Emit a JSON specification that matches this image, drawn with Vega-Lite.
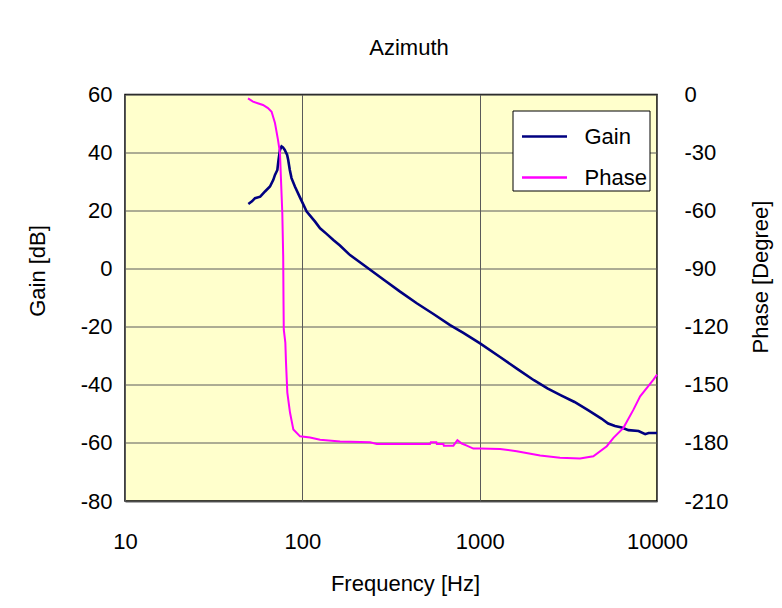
{
  "$schema": "https://vega.github.io/schema/vega-lite/v6.json",
  "width": 532,
  "height": 406.5,
  "autosize": {"type": "none"},
  "padding": {"left": 125, "top": 94.5, "right": 125, "bottom": 107},
  "background": "white",
  "title": {
    "text": "Azimuth",
    "font": "Liberation Sans",
    "fontSize": 22,
    "fontWeight": "normal",
    "color": "#000000",
    "anchor": "middle",
    "dx": 18,
    "offset": 24
  },
  "config": {
    "font": "Liberation Sans",
    "view": {"fill": "#FFFFCC", "stroke": "#000000", "strokeWidth": 1.5},
    "axis": {
      "labelFont": "Liberation Sans",
      "labelFontSize": 22,
      "labelColor": "#000000",
      "titleFont": "Liberation Sans",
      "titleFontSize": 22,
      "titleFontWeight": "normal",
      "titleColor": "#000000",
      "domain": false,
      "ticks": false,
      "gridColor": "#5a5a5a",
      "gridWidth": 1,
      "gridOpacity": 1,
      "labelOverlap": false,
      "labelBound": false,
      "labelExpr": "'' + datum.value"
    }
  },
  "data": {
    "values": [
      {"series": "Gain", "f": 49.6, "v": 22.3},
      {"series": "Gain", "f": 52, "v": 23.2},
      {"series": "Gain", "f": 54.1, "v": 24.3},
      {"series": "Gain", "f": 57.9, "v": 24.8},
      {"series": "Gain", "f": 61.6, "v": 26.6},
      {"series": "Gain", "f": 65.7, "v": 28.3},
      {"series": "Gain", "f": 68.6, "v": 30.6},
      {"series": "Gain", "f": 70.1, "v": 32.3},
      {"series": "Gain", "f": 72.3, "v": 34},
      {"series": "Gain", "f": 73.4, "v": 37.5},
      {"series": "Gain", "f": 74.8, "v": 40.9},
      {"series": "Gain", "f": 76.4, "v": 42.1},
      {"series": "Gain", "f": 77.8, "v": 41.8},
      {"series": "Gain", "f": 79.6, "v": 40.9},
      {"series": "Gain", "f": 82.1, "v": 39.2},
      {"series": "Gain", "f": 83.2, "v": 37.5},
      {"series": "Gain", "f": 85, "v": 34},
      {"series": "Gain", "f": 86.9, "v": 31.2},
      {"series": "Gain", "f": 90.8, "v": 28.3},
      {"series": "Gain", "f": 97.1, "v": 24.5},
      {"series": "Gain", "f": 105.8, "v": 19.7},
      {"series": "Gain", "f": 118, "v": 16.2},
      {"series": "Gain", "f": 125.9, "v": 13.9},
      {"series": "Gain", "f": 137, "v": 12},
      {"series": "Gain", "f": 149.6, "v": 9.9},
      {"series": "Gain", "f": 163, "v": 8},
      {"series": "Gain", "f": 185.8, "v": 4.7},
      {"series": "Gain", "f": 230.8, "v": 0.5},
      {"series": "Gain", "f": 286.6, "v": -3.7},
      {"series": "Gain", "f": 355.8, "v": -7.9},
      {"series": "Gain", "f": 441.8, "v": -11.9},
      {"series": "Gain", "f": 548.6, "v": -15.6},
      {"series": "Gain", "f": 681, "v": -19.4},
      {"series": "Gain", "f": 809, "v": -22.1},
      {"series": "Gain", "f": 1005, "v": -25.7},
      {"series": "Gain", "f": 1303, "v": -30.4},
      {"series": "Gain", "f": 1620, "v": -34.4},
      {"series": "Gain", "f": 2023, "v": -38.4},
      {"series": "Gain", "f": 2410, "v": -41.2},
      {"series": "Gain", "f": 2875, "v": -43.6},
      {"series": "Gain", "f": 3427, "v": -45.9},
      {"series": "Gain", "f": 4084, "v": -48.7},
      {"series": "Gain", "f": 4856, "v": -51.6},
      {"series": "Gain", "f": 5305, "v": -53.3},
      {"series": "Gain", "f": 5795, "v": -54.2},
      {"series": "Gain", "f": 6326, "v": -54.7},
      {"series": "Gain", "f": 6902, "v": -55.6},
      {"series": "Gain", "f": 7870, "v": -55.9},
      {"series": "Gain", "f": 8580, "v": -57},
      {"series": "Gain", "f": 8970, "v": -56.6},
      {"series": "Gain", "f": 10000, "v": -56.6},
      {"series": "Phase", "f": 49.4, "v": -2},
      {"series": "Phase", "f": 52.7, "v": -3.7},
      {"series": "Phase", "f": 56, "v": -4.5},
      {"series": "Phase", "f": 60, "v": -5.4},
      {"series": "Phase", "f": 64, "v": -7},
      {"series": "Phase", "f": 67.1, "v": -8.9},
      {"series": "Phase", "f": 70.1, "v": -14.7},
      {"series": "Phase", "f": 72.9, "v": -23.4},
      {"series": "Phase", "f": 74.8, "v": -30.1},
      {"series": "Phase", "f": 75.8, "v": -44.1},
      {"series": "Phase", "f": 77.1, "v": -61.2},
      {"series": "Phase", "f": 78, "v": -83.7},
      {"series": "Phase", "f": 78.3, "v": -106},
      {"series": "Phase", "f": 78.6, "v": -121.5},
      {"series": "Phase", "f": 80.2, "v": -128.2},
      {"series": "Phase", "f": 80.9, "v": -138.5},
      {"series": "Phase", "f": 82.3, "v": -154},
      {"series": "Phase", "f": 85.2, "v": -164.3},
      {"series": "Phase", "f": 89, "v": -173.1},
      {"series": "Phase", "f": 97.1, "v": -176.6},
      {"series": "Phase", "f": 110.5, "v": -177.2},
      {"series": "Phase", "f": 125.9, "v": -178.3},
      {"series": "Phase", "f": 163.3, "v": -179.3},
      {"series": "Phase", "f": 241, "v": -179.7},
      {"series": "Phase", "f": 263, "v": -180.5},
      {"series": "Phase", "f": 525, "v": -180.5},
      {"series": "Phase", "f": 530, "v": -179.7},
      {"series": "Phase", "f": 570, "v": -179.7},
      {"series": "Phase", "f": 573, "v": -180.5},
      {"series": "Phase", "f": 624, "v": -180.5},
      {"series": "Phase", "f": 628, "v": -181.4},
      {"series": "Phase", "f": 711, "v": -181.4},
      {"series": "Phase", "f": 749, "v": -178.6},
      {"series": "Phase", "f": 793, "v": -180.3},
      {"series": "Phase", "f": 846, "v": -181.4},
      {"series": "Phase", "f": 921, "v": -182.9},
      {"series": "Phase", "f": 1005, "v": -182.9},
      {"series": "Phase", "f": 1303, "v": -183.1},
      {"series": "Phase", "f": 1618, "v": -184.3},
      {"series": "Phase", "f": 2193, "v": -186.5},
      {"series": "Phase", "f": 2838, "v": -187.7},
      {"series": "Phase", "f": 3681, "v": -188.1},
      {"series": "Phase", "f": 4375, "v": -186.9},
      {"series": "Phase", "f": 5210, "v": -181.7},
      {"series": "Phase", "f": 5680, "v": -177.4},
      {"series": "Phase", "f": 6467, "v": -172.2},
      {"series": "Phase", "f": 7366, "v": -162.8},
      {"series": "Phase", "f": 8035, "v": -155.9},
      {"series": "Phase", "f": 9550, "v": -147.3},
      {"series": "Phase", "f": 10000, "v": -144.7}
    ]
  },
  "layer": [
    {
      "transform": [{"filter": "datum.series === 'Gain'"}],
      "mark": {"type": "line", "strokeWidth": 2.6},
      "encoding": {
        "x": {
          "field": "f",
          "type": "quantitative",
          "scale": {"type": "log", "domain": [10, 10000], "nice": false},
          "axis": {
            "values": [10, 100, 1000, 10000],
            "grid": true,
            "labelFlush": false,
            "labelPadding": 30,
            "labelDx": 6,
            "title": "Frequency [Hz]",
            "titleX": 280,
            "titleY": 89,
            "titleAlign": "center",
            "titleBaseline": "alphabetic"
          }
        },
        "y": {
          "field": "v",
          "type": "quantitative",
          "scale": {"domain": [-80, 60], "nice": false, "zero": false},
          "axis": {
            "orient": "left",
            "values": [-80, -60, -40, -20, 0, 20, 40, 60],
            "grid": true,
            "labelPadding": 13,
            "labelBaseline": "middle",
            "labelDy": 2,
            "title": "Gain [dB]",
            "titleAngle": 270,
            "titleX": -88,
            "titleY": 176,
            "titleAlign": "center",
            "titleBaseline": "middle"
          }
        },
        "color": {
          "field": "series",
          "type": "nominal",
          "scale": {"domain": ["Gain", "Phase"], "range": ["#000080", "#FF00FF"]},
          "legend": {
            "orient": "none",
            "legendX": 387.5,
            "legendY": 16,
            "title": null,
            "symbolType": "stroke",
            "symbolSize": 2025,
            "symbolStrokeWidth": 2.5,
            "symbolOffset": 6,
            "labelFont": "Liberation Sans",
            "labelFontSize": 22,
            "labelColor": "#000000",
            "labelOffset": 16,
            "fillColor": "#FFFFFF",
            "strokeColor": "#000000",
            "padding": 2,
            "rowPadding": 6
          }
        }
      }
    },
    {
      "transform": [{"filter": "datum.series === 'Phase'"}],
      "mark": {"type": "line", "strokeWidth": 2},
      "encoding": {
        "x": {
          "field": "f",
          "type": "quantitative",
          "scale": {"type": "log", "domain": [10, 10000], "nice": false},
          "axis": {
            "values": [10, 100, 1000, 10000],
            "grid": true,
            "labelFlush": false,
            "labelPadding": 30,
            "labelDx": 6,
            "title": "Frequency [Hz]",
            "titleX": 280,
            "titleY": 89,
            "titleAlign": "center",
            "titleBaseline": "alphabetic"
          }
        },
        "y": {
          "field": "v",
          "type": "quantitative",
          "scale": {"domain": [-210, 0], "nice": false, "zero": false},
          "axis": {
            "orient": "right",
            "values": [-210, -180, -150, -120, -90, -60, -30, 0],
            "grid": false,
            "labelPadding": 27,
            "labelAlign": "left",
            "labelBaseline": "middle",
            "labelDy": 2,
            "title": "Phase [Degree]",
            "titleAngle": 270,
            "titleX": 103,
            "titleY": 182,
            "titleAlign": "center",
            "titleBaseline": "middle"
          }
        },
        "color": {
          "field": "series",
          "type": "nominal",
          "scale": {"domain": ["Gain", "Phase"], "range": ["#000080", "#FF00FF"]}
        }
      }
    }
  ],
  "resolve": {"scale": {"y": "independent"}}
}
